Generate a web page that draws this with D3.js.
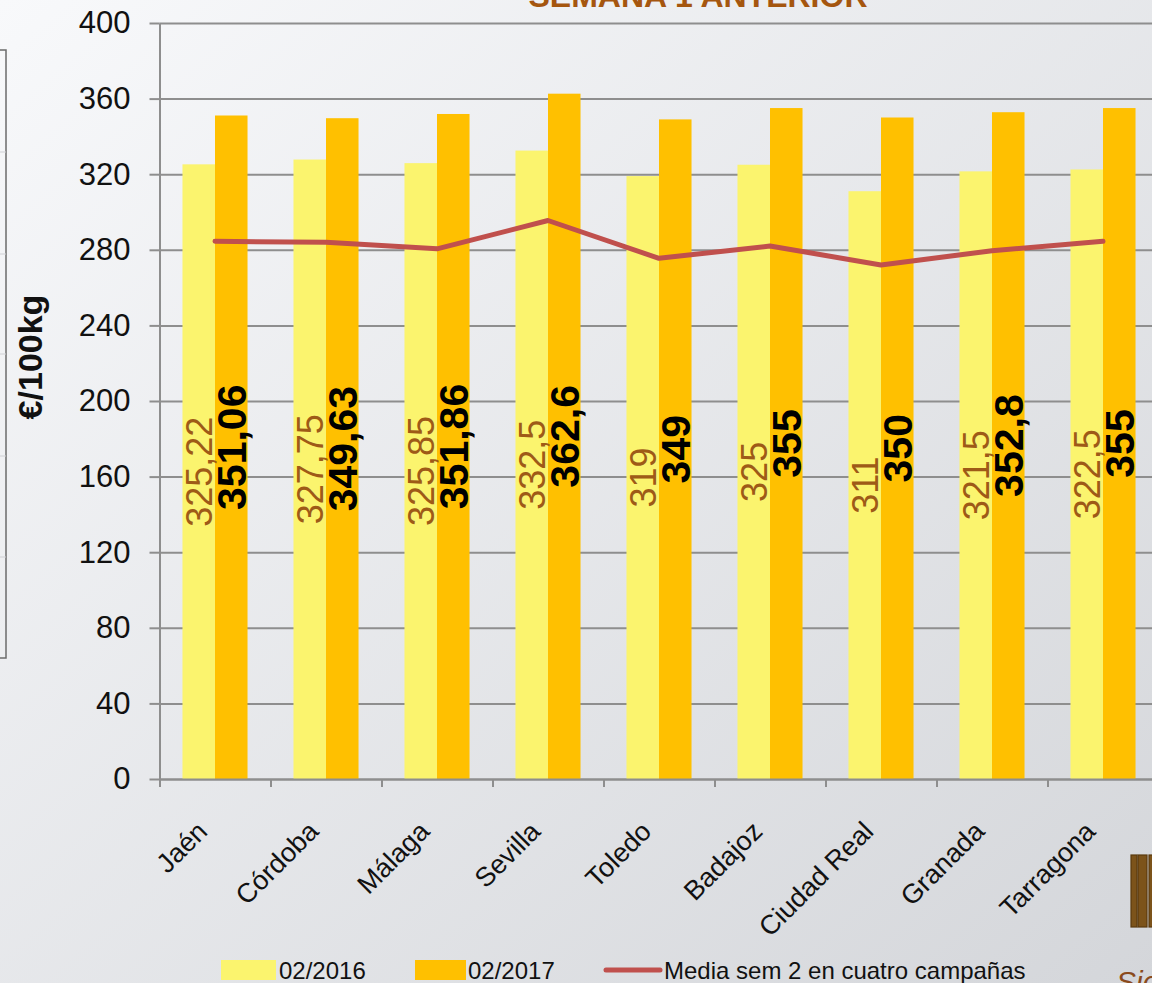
<!doctype html>
<html>
<head>
    <meta charset="utf-8">
    <title>Precios semana</title>
    <script src='https://d3js.org/d3.v7.min.js'></script>
    <style>
        body { margin: 0; overflow: hidden; }
        text { font-family: "Liberation Sans", Arial, sans-serif; }
    </style>
</head>
<body>
<svg></svg>
<script>

    // data
    var categories = ['Jaén', 'Córdoba', 'Málaga', 'Sevilla', 'Toledo', 'Badajoz', 'Ciudad Real', 'Granada', 'Tarragona'];
    var values2016 = [325.22, 327.75, 325.85, 332.5, 319, 325, 311, 321.5, 322.5];
    var values2017 = [351.06, 349.63, 351.86, 362.6, 349, 355, 350, 352.8, 355];
    var media = [284.5, 284, 280.5, 295.5, 275.5, 282, 272, 279.5, 284.5];
    var yTicks = [0, 40, 80, 120, 160, 200, 240, 280, 320, 360, 400];
    var seriesNames = ['02/2016', '02/2017'];

    var svgWidth = 1152, svgHeight = 983;
    var x0 = 159.5, x1 = 1158.5, yTop = 23, yBottom = 779;

    var svg = d3.select('svg')
        .attr('width', svgWidth)
        .attr('height', svgHeight);

    // background
    var grad = svg.append('defs').append('linearGradient')
        .attr('id', 'bg').attr('x1', 0).attr('y1', 0).attr('x2', 1).attr('y2', 1);
    grad.append('stop').attr('offset', 0).attr('stop-color', '#f8f9fb');
    grad.append('stop').attr('offset', 1).attr('stop-color', '#d4d6da');
    svg.append('rect').attr('width', svgWidth).attr('height', svgHeight).attr('fill', 'url(#bg)');

    // table box cut at the left edge
    svg.append('rect')
        .attr('x', -20).attr('y', 50).attr('width', 26).attr('height', 608)
        .attr('fill', 'none').attr('stroke', '#6b6b6b').attr('stroke-width', 1.5);
    svg.selectAll('.rowline')
        .data([152, 254, 354, 456, 557])
        .enter().append('line')
        .attr('x1', 0).attr('x2', 6)
        .attr('y1', function (d) { return d; }).attr('y2', function (d) { return d; })
        .attr('stroke', '#cfd0d4').attr('stroke-width', 1);

    var xScale = d3.scaleBand()
        .domain(categories)
        .range([x0, x1])
        .paddingInner(0.414)
        .paddingOuter(0.207);

    var xSub = d3.scaleBand()
        .domain(seriesNames)
        .range([0, xScale.bandwidth()]);

    var yScale = d3.scaleLinear()
        .domain([0, 400])
        .range([yBottom, yTop]);

    // gridlines
    svg.append('g')
        .attr('transform', 'translate(' + x0 + ',0)')
        .call(d3.axisLeft(yScale).tickValues(yTicks).tickSize(-(x1 - x0)).tickFormat(''))
        .call(function (g) {
            g.select('.domain').remove();
            g.selectAll('line').attr('stroke', '#8e8e8e').attr('stroke-width', 2);
        });

    // bars
    var groups = svg.selectAll('.grp')
        .data(categories)
        .enter().append('g')
        .attr('transform', function (d) { return 'translate(' + xScale(d) + ',0)'; });

    groups.append('rect')
        .attr('x', xSub('02/2016'))
        .attr('width', xSub.bandwidth())
        .attr('y', function (d, i) { return yScale(values2016[i]); })
        .attr('height', function (d, i) { return yBottom - yScale(values2016[i]); })
        .attr('fill', '#fbf46e');

    groups.append('rect')
        .attr('x', xSub('02/2017'))
        .attr('width', xSub.bandwidth())
        .attr('y', function (d, i) { return yScale(values2017[i]); })
        .attr('height', function (d, i) { return yBottom - yScale(values2017[i]); })
        .attr('fill', '#ffc000');

    // y axis
    svg.append('g')
        .attr('transform', 'translate(' + x0 + ',0)')
        .call(d3.axisLeft(yScale).tickValues(yTicks).tickSize(10).tickSizeOuter(0).tickPadding(19))
        .call(function (g) {
            g.select('.domain').attr('stroke', '#8e8e8e').attr('stroke-width', 2);
            g.selectAll('line').attr('stroke', '#8e8e8e').attr('stroke-width', 2);
            g.selectAll('text').attr('font-size', 31).attr('fill', '#111')
                .attr('font-family', '"Liberation Sans", Arial, sans-serif');
        });

    // x axis (ticks between categories)
    var xIdx = d3.scaleLinear().domain([0, categories.length]).range([x0, x1]);
    svg.append('g')
        .attr('transform', 'translate(0,' + yBottom + ')')
        .call(d3.axisBottom(xIdx).tickValues(d3.range(categories.length + 1)).tickSize(8).tickSizeOuter(0).tickFormat(''))
        .call(function (g) {
            g.select('.domain').attr('stroke', '#8e8e8e').attr('stroke-width', 2);
            g.selectAll('line').attr('stroke', '#8e8e8e').attr('stroke-width', 2);
        });

    svg.selectAll('.xlab')
        .data(categories)
        .enter().append('text')
        .attr('transform', function (d) {
            var cx = xScale(d) + xScale.bandwidth() / 2 - 6;
            return 'translate(' + cx + ',833) rotate(-45)';
        })
        .attr('text-anchor', 'end')
        .attr('font-size', 27)
        .attr('fill', '#111')
        .text(function (d) { return d; });

    // average line
    var line = d3.line()
        .x(function (d, i) { return xScale(categories[i]) + xScale.bandwidth() / 2; })
        .y(function (d) { return yScale(d); });

    svg.append('path')
        .datum(media)
        .attr('d', line)
        .attr('fill', 'none')
        .attr('stroke', '#c0504d')
        .attr('stroke-width', 5)
        .attr('stroke-linecap', 'round')
        .attr('stroke-linejoin', 'round');

    // value labels
    function fmt(v) { return String(v).replace('.', ','); }

    groups.append('text')
        .attr('transform', function (d, i) {
            var cx = xSub('02/2016') + xSub.bandwidth() / 2;
            return 'translate(' + cx + ',' + yScale(values2016[i] / 2) + ') rotate(-90)';
        })
        .attr('text-anchor', 'middle')
        .attr('dy', '0.36em')
        .attr('font-size', 36)
        .attr('fill', '#9e5a17')
        .text(function (d, i) { return fmt(values2016[i]); });

    groups.append('text')
        .attr('transform', function (d, i) {
            var cx = xSub('02/2017') + xSub.bandwidth() / 2;
            return 'translate(' + cx + ',' + yScale(values2017[i] / 2) + ') rotate(-90)';
        })
        .attr('text-anchor', 'middle')
        .attr('dy', '0.36em')
        .attr('font-size', 41)
        .attr('font-weight', 'bold')
        .attr('fill', '#000')
        .text(function (d, i) { return fmt(values2017[i]); });

    // y title
    svg.append('text')
        .attr('transform', 'translate(42,357) rotate(-90)')
        .attr('text-anchor', 'middle')
        .attr('font-size', 34)
        .attr('font-weight', 'bold')
        .attr('font-family', '"Open Sans", sans-serif')
        .attr('fill', '#111')
        .text('€/100kg');

    // title, cut at the top
    svg.append('text')
        .attr('x', 698).attr('y', 7)
        .attr('text-anchor', 'middle')
        .attr('font-size', 32)
        .attr('font-weight', 'bold')
        .attr('fill', '#a5560f')
        .text('SEMANA 1 ANTERIOR');

    // legend
    var legend = svg.append('g').attr('font-family', '"Open Sans", sans-serif').attr('font-size', 24).attr('fill', '#111');
    legend.append('rect').attr('x', 221).attr('y', 960).attr('width', 55).attr('height', 20).attr('fill', '#fbf46e');
    legend.append('text').attr('x', 279).attr('y', 979).text(seriesNames[0]);
    legend.append('rect').attr('x', 415).attr('y', 960).attr('width', 51).attr('height', 20).attr('fill', '#ffc000');
    legend.append('text').attr('x', 468).attr('y', 979).text(seriesNames[1]);
    legend.append('line').attr('x1', 606).attr('x2', 660).attr('y1', 970).attr('y2', 970)
        .attr('stroke', '#c0504d').attr('stroke-width', 5).attr('stroke-linecap', 'round');
    legend.append('text').attr('x', 664).attr('y', 979).text('Media sem 2 en cuatro campañas');

    // logo fragment, bottom right
    var logo = svg.append('g');
    [[1131, 6], [1138, 9], [1149, 8]].forEach(function (b) {
        logo.append('rect').attr('x', b[0]).attr('y', 855).attr('width', b[1]).attr('height', 72)
            .attr('fill', '#7c531a').attr('stroke', '#5a3a0e').attr('stroke-width', 1.2);
    });
    svg.append('text')
        .attr('x', 1116).attr('y', 992)
        .attr('font-size', 30).attr('font-style', 'italic')
        .attr('font-family', '"Open Sans", sans-serif')
        .attr('fill', '#8a4a1c')
        .text('Sic');

</script>
</body>
</html>
